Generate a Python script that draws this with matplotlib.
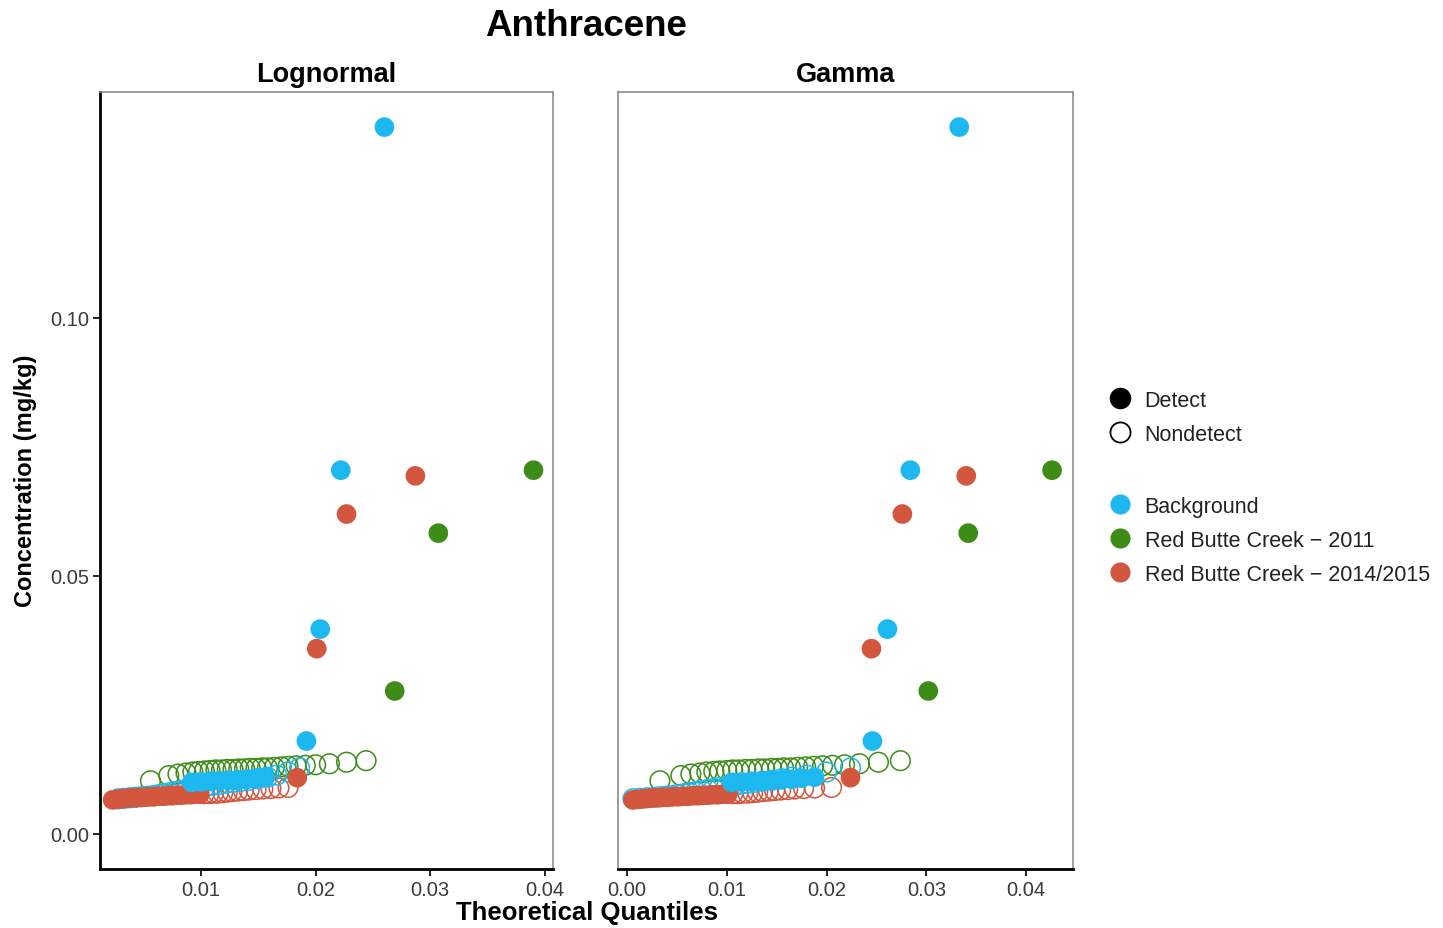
import matplotlib
matplotlib.use("Agg")
import matplotlib.pyplot as plt
from matplotlib.lines import Line2D

plt.rcParams['font.family'] = ['Liberation Sans', 'DejaVu Sans']

# ---------------- data ----------------
title = "Anthracene"
panels = ["Lognormal", "Gamma"]
groups = ["Background", "Red Butte Creek \u2212 2011", "Red Butte Creek \u2212 2014/2015"]
colors = ["#1DB8EF", "#3E8C18", "#D3563F"]

# Background detects (y) with theoretical quantiles for each panel
bg_det_y = [0.0100, 0.0101, 0.0102, 0.0103, 0.0104, 0.0105, 0.0106, 0.0108, 0.0110,
            0.0180, 0.0397, 0.0705, 0.1370]
bg_det_x_logn = [0.0092, 0.0100, 0.0108, 0.0116, 0.0124, 0.0132, 0.0140, 0.0148, 0.0156,
                 0.0192, 0.0204, 0.0222, 0.0260]
bg_det_x_gam = [0.0105, 0.0115, 0.0125, 0.0135, 0.0145, 0.0155, 0.0165, 0.0175, 0.0188,
                0.0246, 0.0261, 0.0284, 0.0333]
# Background nondetects
bg_nd_y = [0.0068, 0.0069, 0.0070, 0.0071, 0.0072, 0.0073, 0.0074, 0.0076, 0.0078, 0.0080,
           0.0082, 0.0084, 0.0086, 0.0088, 0.0090, 0.0092, 0.0094, 0.0096, 0.0098, 0.0100,
           0.0102, 0.0104, 0.0107, 0.0110, 0.0114, 0.0120, 0.0128]
bg_nd_x_logn = [0.0028, 0.0033, 0.0038, 0.0043, 0.0048, 0.0053, 0.0058, 0.0063, 0.0068, 0.0073,
                0.0078, 0.0083, 0.0088, 0.0093, 0.0098, 0.0104, 0.0110, 0.0116, 0.0122, 0.0128,
                0.0135, 0.0142, 0.0150, 0.0158, 0.0166, 0.0176, 0.0186]
bg_nd_x_gam = [0.0006, 0.0013, 0.0020, 0.0027, 0.0033, 0.0039, 0.0045, 0.0051, 0.0057, 0.0063,
               0.0069, 0.0075, 0.0081, 0.0087, 0.0093, 0.0100, 0.0107, 0.0114, 0.0121, 0.0128,
               0.0136, 0.0145, 0.0155, 0.0165, 0.0180, 0.0200, 0.0224]

# Red Butte Creek 2011 detects
g_det_y = [0.0277, 0.0583, 0.0705]
g_det_x_logn = [0.0269, 0.0307, 0.0390]
g_det_x_gam = [0.0302, 0.0342, 0.0426]
# Red Butte Creek 2011 nondetects
g_nd_y = [0.0103, 0.0113, 0.0116, 0.0118, 0.0120, 0.0121, 0.0122, 0.0123, 0.0124, 0.0124,
          0.0125, 0.0125, 0.0126, 0.0126, 0.0127, 0.0127, 0.0128, 0.0128, 0.0129, 0.0130,
          0.0131, 0.0132, 0.0133, 0.0134, 0.0136, 0.0139, 0.0142]
g_nd_x_logn = [0.0056, 0.0072, 0.0080, 0.0087, 0.0093, 0.0098, 0.0103, 0.0108, 0.0113, 0.0118,
               0.0123, 0.0128, 0.0133, 0.0138, 0.0143, 0.0148, 0.0153, 0.0158, 0.0164, 0.0170,
               0.0176, 0.0183, 0.0191, 0.0200, 0.0212, 0.0227, 0.0244]
g_nd_x_gam = [0.0033, 0.0054, 0.0064, 0.0073, 0.0080, 0.0087, 0.0093, 0.0100, 0.0106, 0.0112,
              0.0119, 0.0125, 0.0132, 0.0138, 0.0145, 0.0151, 0.0157, 0.0164, 0.0171, 0.0179,
              0.0187, 0.0196, 0.0206, 0.0218, 0.0233, 0.0252, 0.0274]

# Red Butte Creek 2014/2015 detects
r_det_y = [0.0066, 0.0067, 0.0068, 0.0069, 0.0070, 0.0070, 0.0071, 0.0071, 0.0072, 0.0072,
           0.0073, 0.0073, 0.0074, 0.0074, 0.0075, 0.0075, 0.0076, 0.0076, 0.0077, 0.0077,
           0.0109, 0.0359, 0.0620, 0.0694]
r_det_x_logn = [0.0023, 0.0027, 0.0031, 0.0035, 0.0039, 0.0043, 0.0047, 0.0051, 0.0055, 0.0059,
                0.0063, 0.0067, 0.0071, 0.0075, 0.0079, 0.0083, 0.0087, 0.0091, 0.0095, 0.0099,
                0.0184, 0.0201, 0.0227, 0.0287]
r_det_x_gam = [0.0006, 0.0011, 0.0016, 0.0021, 0.0026, 0.0031, 0.0036, 0.0041, 0.0046, 0.0051,
               0.0056, 0.0061, 0.0066, 0.0071, 0.0076, 0.0081, 0.0086, 0.0091, 0.0096, 0.0101,
               0.0224, 0.0245, 0.0276, 0.0340]
# Red Butte Creek 2014/2015 nondetects
r_nd_y = [0.0078, 0.0078, 0.0079, 0.0079, 0.0080, 0.0081, 0.0082, 0.0083, 0.0084, 0.0085,
          0.0086, 0.0087, 0.0088, 0.0089, 0.0090]
r_nd_x_logn = [0.0103, 0.0107, 0.0111, 0.0115, 0.0119, 0.0123, 0.0127, 0.0132, 0.0137, 0.0142,
               0.0148, 0.0154, 0.0161, 0.0168, 0.0176]
r_nd_x_gam = [0.0106, 0.0111, 0.0116, 0.0121, 0.0126, 0.0131, 0.0136, 0.0142, 0.0148, 0.0154,
              0.0161, 0.0168, 0.0177, 0.0188, 0.0205]

y_ticks = [0.00, 0.05, 0.10]
y_ticklabels = ["0.00", "0.05", "0.10"]
x_ticks_logn = [0.01, 0.02, 0.03, 0.04]
x_ticks_gam = [0.00, 0.01, 0.02, 0.03, 0.04]

# ---------------- figure ----------------
W, H = 1443, 929
fig = plt.figure(figsize=(W / 100, H / 100), dpi=100)
fig.patch.set_facecolor("white")

def fx(px):
    return px / W

def fy(py):
    return 1 - py / H

ax1 = fig.add_axes([fx(100), fy(870), fx(553) - fx(100), fy(93) - fy(870)])
ax2 = fig.add_axes([fx(618), fy(870), fx(1073) - fx(618), fy(93) - fy(870)])

S = 200
LW = 1.1

def draw(ax, nd_sets, det_sets):
    # nondetects first (green, red, background), then detects
    for (x, y, c) in nd_sets:
        ax.scatter(x, y, s=S, facecolors="none", edgecolors=c, linewidths=LW, zorder=2)
    for (x, y, c) in det_sets:
        ax.scatter(x, y, s=S, facecolors=c, edgecolors="none", zorder=3)

draw(ax1,
     [(g_nd_x_logn, g_nd_y, colors[1]), (r_nd_x_logn, r_nd_y, colors[2]), (bg_nd_x_logn, bg_nd_y, colors[0])],
     [(r_det_x_logn, r_det_y, colors[2]), (bg_det_x_logn, bg_det_y, colors[0]), (g_det_x_logn, g_det_y, colors[1])])
draw(ax2,
     [(g_nd_x_gam, g_nd_y, colors[1]), (r_nd_x_gam, r_nd_y, colors[2]), (bg_nd_x_gam, bg_nd_y, colors[0])],
     [(r_det_x_gam, r_det_y, colors[2]), (bg_det_x_gam, bg_det_y, colors[0]), (g_det_x_gam, g_det_y, colors[1])])

ylim = (-0.0068, 0.1438)
ax1.set_xlim(0.0012, 0.0407)
ax2.set_xlim(-0.0009, 0.0447)
for ax in (ax1, ax2):
    ax.set_ylim(*ylim)
    ax.set_yticks(y_ticks)
    for sp in ("top", "right"):
        ax.spines[sp].set_color("#8c8c8c")
        ax.spines[sp].set_linewidth(1.2)
    ax.spines["bottom"].set_color("black")
    ax.spines["bottom"].set_linewidth(2.0)
    ax.tick_params(axis="both", length=5, width=1.2, color="black",
                   labelsize=14.5, labelcolor="#3a3a3a", pad=3)

ax1.spines["left"].set_color("black")
ax1.spines["left"].set_linewidth(2.0)
ax1.set_yticklabels(y_ticklabels)
ax2.spines["left"].set_color("#8c8c8c")
ax2.spines["left"].set_linewidth(1.2)
ax2.tick_params(axis="y", left=False, labelleft=False)

ax1.set_xticks(x_ticks_logn)
ax1.set_xticklabels([f"{v:.2f}" for v in x_ticks_logn])
ax2.set_xticks(x_ticks_gam)
ax2.set_xticklabels([f"{v:.2f}" for v in x_ticks_gam])

ax1.set_title(panels[0], fontsize=19.5, fontweight="bold", pad=8)
ax2.set_title(panels[1], fontsize=19.5, fontweight="bold", pad=8)

fig.text(fx(586), fy(26), title, fontsize=26.5, fontweight="bold", ha="center", va="center")
fig.text(fx(587), fy(913), "Theoretical Quantiles", fontsize=18.5, fontweight="bold",
         ha="center", va="center")
fig.text(fx(26), fy(481), "Concentration (mg/kg)", fontsize=17, fontweight="bold",
         ha="center", va="center", rotation=90)

# ---------------- legends ----------------
MS = 14.5
FS = 15.5
LS = 0.6
shape_handles = [
    Line2D([], [], marker="o", linestyle="none", markersize=MS, markerfacecolor="black",
           markeredgecolor="black"),
    Line2D([], [], marker="o", linestyle="none", markersize=MS, markerfacecolor="none",
           markeredgecolor="black", markeredgewidth=1.3),
]
leg1 = fig.legend(shape_handles, ["Detect", "Nondetect"], loc="upper left",
                  bbox_to_anchor=(fx(1107), fy(391)), frameon=False, fontsize=FS,
                  labelspacing=LS, handletextpad=0.55, handlelength=1.2, borderpad=0,
                  borderaxespad=0)
col_handles = [Line2D([], [], marker="o", linestyle="none", markersize=MS,
                      markerfacecolor=c, markeredgecolor="none") for c in colors]
leg2 = fig.legend(col_handles, groups, loc="upper left",
                  bbox_to_anchor=(fx(1107), fy(497)), frameon=False, fontsize=FS,
                  labelspacing=LS, handletextpad=0.55, handlelength=1.2, borderpad=0,
                  borderaxespad=0)
for t in leg1.get_texts() + leg2.get_texts():
    t.set_color("#222222")

fig.savefig("out.png", dpi=100)
